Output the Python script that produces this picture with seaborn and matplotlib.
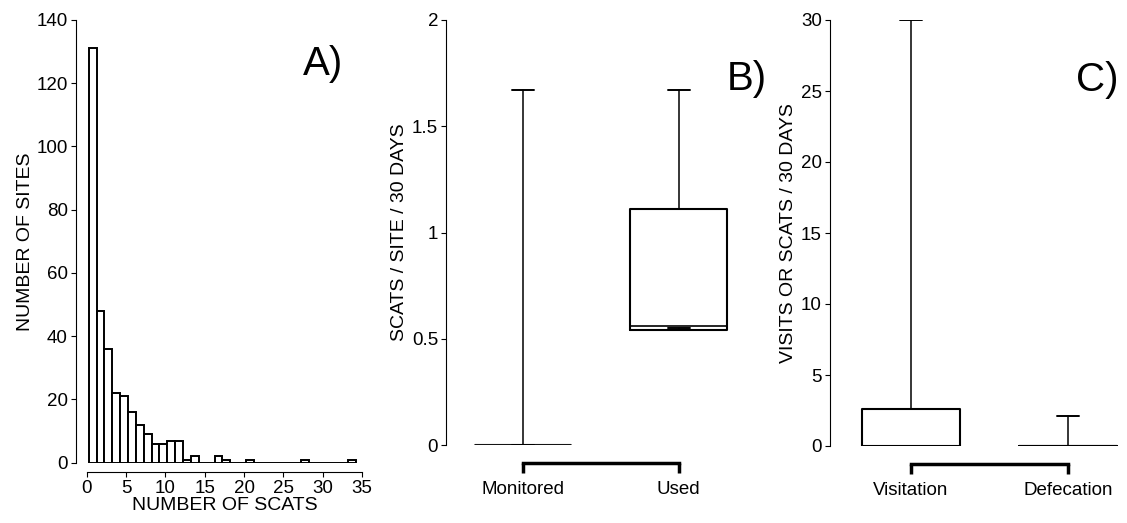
import matplotlib
matplotlib.use("Agg")
import matplotlib.pyplot as plt
import seaborn as sns
import numpy as np
import pandas as pd

# Panel A data
scat_bins = list(range(0, 34))
site_counts = [131, 48, 36, 22, 21, 16, 12, 9, 6, 6, 7, 7, 1, 2, 0, 0, 2, 1, 0, 0,
               1, 0, 0, 0, 0, 0, 0, 1, 0, 0, 0, 0, 0, 1]
# Panel B data
b_labels = ["Monitored", "Used"]
b_q1 = [0.0, 0.54]
b_med = [0.0, 0.56]
b_q3 = [0.0, 1.11]
b_lo = [0.0, 0.55]
b_hi = [1.67, 1.67]
# Panel C data
c_labels = ["Visitation", "Defecation"]
c_q1 = [0.0, 0.0]
c_med = [0.0, 0.0]
c_q3 = [2.6, 0.0]
c_lo = [0.0, 0.0]
c_hi = [30.0, 2.1]

sns.set_style("ticks")
plt.rcParams['font.family'] = ['Liberation Sans', 'DejaVu Sans']
plt.rcParams.update({'font.size': 13, 'text.color': 'black', 'axes.labelcolor': 'black',
                     'xtick.color': 'black', 'ytick.color': 'black',
                     'axes.edgecolor': 'black', 'xtick.labelsize': 13.5, 'ytick.labelsize': 13.5})

W, H = 1127, 523
fig = plt.figure(figsize=(W / 100, H / 100), dpi=100)

def ax_px(l, r, b, t):
    return fig.add_axes([l / W, 1 - b / H, (r - l) / W, (b - t) / H])

# Panel A
axA = ax_px(86.7, 362, 462.7, 20)
dfA = pd.DataFrame({"scats": [b + 0.75 for b in scat_bins], "n": site_counts})
sns.barplot(data=dfA, x="scats", y="n", native_scale=True, width=1.0,
            ax=axA, color="white", edgecolor="black", linewidth=1.4, errorbar=None)
axA.set_xlim(0, 35)
axA.set_ylim(0, 140)
axA.set_xticks(range(0, 36, 5))
axA.set_xticklabels([str(v) for v in range(0, 36, 5)])
axA.set_yticks(range(0, 141, 20))
axA.spines[['top', 'right']].set_visible(False)
axA.spines['left'].set_position(('outward', 8))
axA.spines['bottom'].set_position(('outward', 7))
axA.tick_params(pad=2)
axA.set_xlabel("NUMBER OF SCATS", fontsize=14, labelpad=0)
axA.set_ylabel("NUMBER OF SITES", fontsize=14, labelpad=2)
axA.text(0.86, 0.9, "A)", transform=axA.transAxes, fontsize=29, ha="center", va="center")

def boxpanel(ax, labels, q1, med, q3, lo, hi, ylim, yticks, yticklabels, ylabel, tag):
    stats = []
    for i in range(len(labels)):
        stats.append(dict(q1=q1[i], med=med[i], q3=q3[i], whislo=lo[i], whishi=hi[i], fliers=[]))
    ax.bxp(stats, positions=range(len(labels)), widths=0.62, showfliers=False,
           boxprops=dict(color="black", linewidth=1.5),
           medianprops=dict(color="black", linewidth=1.2),
           whiskerprops=dict(color="black", linewidth=1.1),
           capprops=dict(color="black", linewidth=1.4), capwidths=0.14)
    ax.set_ylim(*ylim)
    ax.set_yticks(yticks)
    ax.set_yticklabels(yticklabels)
    ax.set_xticks(range(len(labels)))
    ax.set_xticklabels(labels, fontsize=14)
    ax.spines[['top', 'right']].set_visible(False)
    ax.spines['bottom'].set_position(('outward', 13))
    ax.spines['bottom'].set_bounds(0, len(labels) - 1)
    ax.spines['bottom'].set_linewidth(2.5)
    ax.tick_params(axis='x', length=7, width=2.5, pad=6)
    ax.tick_params(axis='y', pad=2)
    ax.set_ylabel(ylabel, fontsize=14, labelpad=3)
    ax.text(0.9, 0.86, tag, transform=ax.transAxes, fontsize=29, ha="center", va="center")

axB = ax_px(445.7, 780, 445, 20)
boxpanel(axB, b_labels, b_q1, b_med, b_q3, b_lo, b_hi, (0, 2), [0, 0.5, 1, 1.5, 2],
         ["0", "0.5", "1", "1.5", "2"], "SCATS / SITE / 30 DAYS", "B)")
axB.set_xlim(-0.495, 1.65)
axB.lines[0].set_color("grey")

axC = ax_px(829.6, 1127, 446, 20)
boxpanel(axC, c_labels, c_q1, c_med, c_q3, c_lo, c_hi, (0, 30), range(0, 31, 5),
         [str(v) for v in range(0, 31, 5)], "VISITS OR SCATS / 30 DAYS", "C)")
axC.set_xlim(-0.516, 1.375)

fig.savefig("out.png", dpi=100)
